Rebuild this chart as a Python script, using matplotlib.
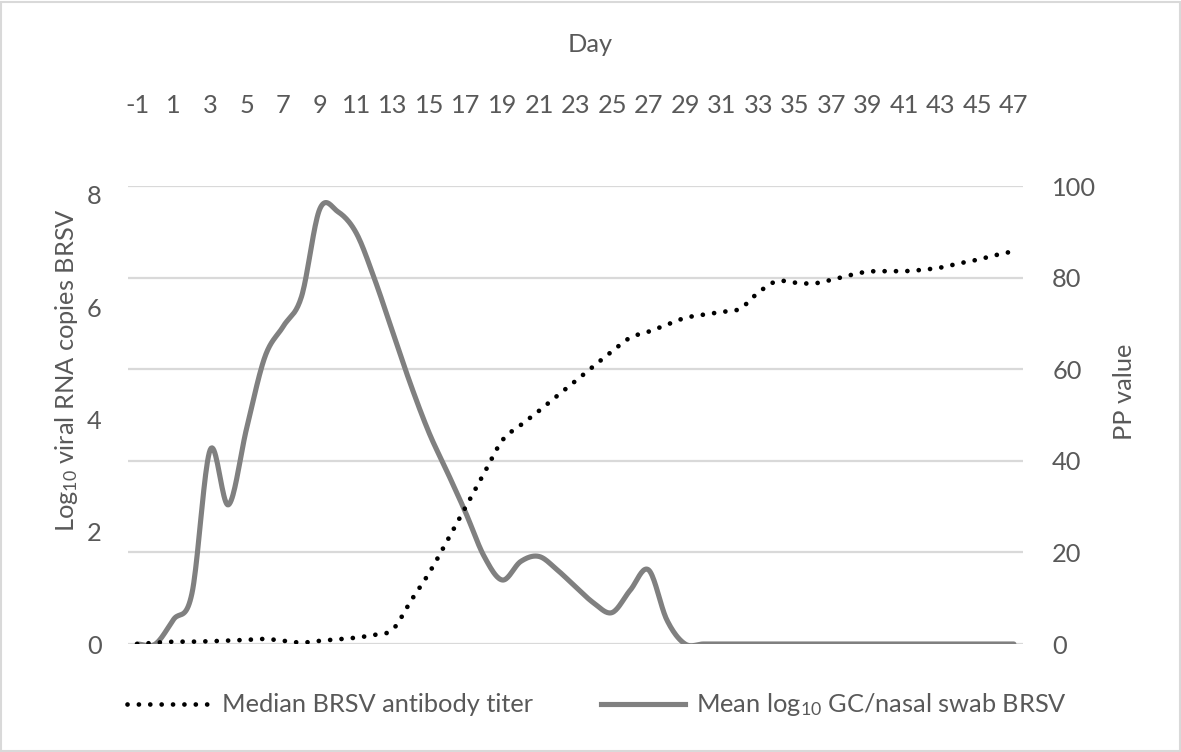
import numpy as np
import matplotlib
matplotlib.use("Agg")
import matplotlib.pyplot as plt
from matplotlib.lines import Line2D
from matplotlib.patches import Rectangle

plt.rcParams['font.family'] = ['Lato', 'DejaVu Sans']
plt.rcParams['mathtext.fontset'] = 'custom'
plt.rcParams['mathtext.rm'] = 'Lato'
plt.rcParams['mathtext.it'] = 'Lato'

# ---------------- data ----------------
days = list(range(-1, 48))
tick_days = list(range(-1, 48, 2))

viral_log10 = [0.0, 0.0, 0.44, 0.9, 3.46, 2.48, 3.85, 5.12, 5.66, 6.19,
               7.75, 7.7, 7.32, 6.5, 5.55, 4.6, 3.75, 3.05, 2.33, 1.56,
               1.14, 1.47, 1.56, 1.32, 1.02, 0.73, 0.56, 0.96, 1.32, 0.43,
               0.0, 0.0, 0.0, 0.0, 0.0, 0.0, 0.0, 0.0, 0.0, 0.0,
               0.0, 0.0, 0.0, 0.0, 0.0, 0.0, 0.0, 0.0, 0.0]

antibody_pp = [0.0, 0.3, 0.5, 0.5, 0.6, 0.75, 0.9, 1.1, 0.7, 0.3,
               0.7, 1.0, 1.4, 2.0, 3.2, 9.5, 15.6, 22.7, 30.0, 37.3,
               44.5, 47.8, 50.9, 54.2, 57.4, 60.7, 63.9, 66.9, 68.2, 69.7,
               71.2, 71.9, 72.5, 73.2, 76.7, 79.2, 78.9, 78.7, 79.5, 80.5,
               81.3, 81.4, 81.4, 81.7, 82.2, 83.1, 83.9, 84.9, 85.7]

left_ticks = [0, 2, 4, 6, 8]
right_ticks = [0, 20, 40, 60, 80, 100]

legend_labels = ['Median BRSV antibody titer',
                 r'Mean log$_{\mathregular{10}}$ GC/nasal swab BRSV']


def smooth(x, y, n=20):
    """Catmull-Rom smoothing similar to Excel's smoothed line."""
    x = np.asarray(x, float)
    y = np.asarray(y, float)
    px = np.concatenate([[2 * x[0] - x[1]], x, [2 * x[-1] - x[-2]]])
    py = np.concatenate([[y[0]], y, [y[-1]]])
    xs, ys = [], []
    t = np.linspace(0, 1, n, endpoint=False)
    for i in range(1, len(px) - 2):
        for arr, out in ((px, xs), (py, ys)):
            p0, p1, p2, p3 = arr[i - 1], arr[i], arr[i + 1], arr[i + 2]
            out.extend(0.5 * ((2 * p1) + (-p0 + p2) * t
                              + (2 * p0 - 5 * p1 + 4 * p2 - p3) * t ** 2
                              + (-p0 + 3 * p1 - 3 * p2 + p3) * t ** 3))
    xs.append(x[-1])
    ys.append(y[-1])
    return np.array(xs), np.array(ys)


W, H = 1181, 752
fig = plt.figure(figsize=(W / 100, H / 100), dpi=100)
fig.patch.set_facecolor('white')

L, R, T, B = 128, 1023, 186, 644
ax = fig.add_axes([L / W, 1 - B / H, (R - L) / W, (B - T) / H])
ax2 = ax.twinx()

text_col = '#595959'
grid_col = '#d9d9d9'
fs = 18.3

left_max = 8.16
ax.set_ylim(0, left_max)
ax2.set_ylim(0, 100)
ax.set_xlim(-1.5, 47.5)

# gridlines (belonging to right axis), drawn beneath the data
for v in right_ticks:
    ax.axhline(v / 100 * left_max, color=grid_col, lw=1.6, zorder=0)

sx, sy = smooth(days, viral_log10)
ax.plot(sx, sy, color='#808080', lw=3.7, solid_capstyle='round', zorder=3)

ax2x, ax2y = smooth(days, antibody_pp)
ax2.plot(ax2x, ax2y, color='black', lw=3.4,
         linestyle=(0, (0.01, 2.4)), dash_capstyle='round', zorder=3)

for a in (ax, ax2):
    for s in a.spines.values():
        s.set_visible(False)
    a.patch.set_visible(False)

ax.set_yticks(left_ticks)
ax.set_yticklabels([str(v) for v in left_ticks])
ax.tick_params(axis='y', length=0, pad=19, labelsize=fs, labelcolor=text_col)
ax2.set_yticks(right_ticks)
ax2.set_yticklabels([str(v) for v in right_ticks])
ax2.tick_params(axis='y', length=0, pad=21, labelsize=fs, labelcolor=text_col)

ax.set_xticks(tick_days)
ax.set_xticklabels([str(d) for d in tick_days])
ax.xaxis.set_ticks_position('top')
ax.xaxis.set_label_position('top')
ax.tick_params(axis='x', length=0, pad=50, labelsize=fs, labelcolor=text_col,
               top=True, bottom=False, labeltop=True, labelbottom=False)

fig.text(590 / W, 1 - 45 / H, 'Day', ha='center', va='center',
         fontsize=fs, color=text_col)
fig.text(67 / W, 1 - 370 / H, r'Log$_{\mathregular{10}}$ viral RNA copies BRSV',
         rotation=90, ha='center', va='center', fontsize=fs, color=text_col)
fig.text(1124 / W, 1 - 392 / H, 'PP value', rotation=90, ha='center',
         va='center', fontsize=fs, color=text_col)

handles = [Line2D([], [], color='black', lw=3.4, linestyle=(0, (0.01, 2.4)),
                  dash_capstyle='round'),
           Line2D([], [], color='#808080', lw=3.7)]
fig.legend(handles, legend_labels, loc='center left',
           bbox_to_anchor=(127 / W, 1 - 705 / H), ncol=2, frameon=False,
           fontsize=fs, labelcolor=text_col, handlelength=3.3,
           handletextpad=0.42, columnspacing=2.7, borderpad=0,
           borderaxespad=0)

fig.patches.append(Rectangle((1.5 / W, 1.5 / H), (W - 3) / W, (H - 3) / H,
                             transform=fig.transFigure, fill=False,
                             edgecolor=grid_col, lw=1.5))

fig.savefig('out.png', dpi=100, facecolor='white')
